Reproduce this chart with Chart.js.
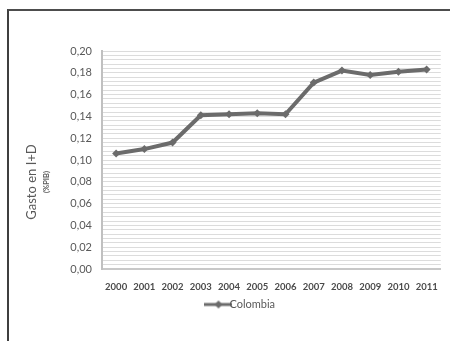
<!DOCTYPE html>
<html>
<head>
<meta charset="utf-8">
<script src="https://cdn.jsdelivr.net/npm/chart.js@4.4.1/dist/chart.umd.min.js"></script>
<style>
  html, body { margin: 0; padding: 0; background: #fff; }
  #wrap { position: relative; width: 450px; height: 341px; }
  #frame { position: absolute; left: 7px; top: 9px; right: 0; bottom: 0;
           border-top: 2px solid #4d4d4d; border-left: 2px solid #3f3f3f; pointer-events: none; }
  canvas { position: absolute; left: 0; top: 0; }
</style>
</head>
<body>
<div id="wrap">
  <canvas id="c" width="450" height="341"></canvas>
  <div id="frame"></div>
</div>
<script>
// Gasto en I+D de Colombia, % del PIB
const years = ['2000','2001','2002','2003','2004','2005','2006','2007','2008','2009','2010','2011'];
const colombia = [0.106, 0.110, 0.116, 0.141, 0.142, 0.143, 0.142, 0.171, 0.182, 0.178, 0.181, 0.183];
const yTitle = 'Gasto en I+D';
const yUnit = '(%PIB)';
const seriesName = 'Colombia';

const LINE = '#6b6b6b';
const TEXT = '#595959';

// Legend swatch: a short line with a diamond marker in the middle
function legendSwatch() {
  const cv = document.createElement('canvas');
  cv.width = 28; cv.height = 10;
  const g = cv.getContext('2d');
  g.strokeStyle = LINE; g.lineWidth = 3;
  g.beginPath(); g.moveTo(0, 5); g.lineTo(28, 5); g.stroke();
  g.fillStyle = LINE;
  g.beginPath(); g.moveTo(14, 1); g.lineTo(18, 5); g.lineTo(14, 9); g.lineTo(10, 5); g.closePath(); g.fill();
  return cv;
}

// Two-line rotated axis title, drawn beside the value axis
const axisTitle = {
  id: 'axisTitle',
  afterDraw(chart) {
    const { ctx, chartArea } = chart;
    const cy = (chartArea.top + chartArea.bottom) / 2 + 22;
    ctx.save();
    ctx.fillStyle = TEXT;
    ctx.textAlign = 'center';
    ctx.textBaseline = 'middle';
    ctx.translate(chartArea.left - 70, cy);
    ctx.rotate(-Math.PI / 2);
    ctx.font = '13px Lato';
    ctx.fillText(yTitle, 0, 0);
    ctx.font = 'bold 7.5px Lato';
    ctx.fillText(yUnit, 0, 15);
    ctx.restore();
  }
};

new Chart(document.getElementById('c'), {
  type: 'line',
  data: {
    labels: years,
    datasets: [{
      label: seriesName,
      data: colombia,
      borderColor: LINE,
      backgroundColor: LINE,
      borderWidth: 4,
      pointStyle: 'rectRot',
      pointRadius: 4,
      pointBorderWidth: 0,
      tension: 0
    }]
  },
  options: {
    responsive: false,
    animation: false,
    layout: { padding: { left: 46, right: 8, top: 51, bottom: 21 } },
    plugins: {
      tooltip: { enabled: false },
      legend: {
        position: 'bottom',
        labels: {
          usePointStyle: true,
          pointStyle: legendSwatch(),
          color: TEXT,
          font: { family: 'Lato', size: 11 },
          padding: 4
        }
      }
    },
    scales: {
      x: {
        offset: true,
        grid: { display: false, drawTicks: false },
        border: { color: '#c8c8c8', width: 2 },
        ticks: { color: '#4a4a4a', font: { family: 'Lato', size: 9.5, weight: 'bold' }, padding: 12, maxRotation: 0, autoSkip: false },
        afterFit(s) { s.height = 26; }
      },
      y: {
        min: 0, max: 0.2,
        grid: { color: '#dcdcdc', lineWidth: 1, drawTicks: false },
        border: { color: '#c0c0c0', width: 2 },
        ticks: {
          stepSize: 0.004,
          maxTicksLimit: 200,
          autoSkip: false,
          padding: 10,
          color: TEXT,
          font: { family: 'Lato', size: 11 },
          callback(v) {
            const k = v / 0.02;
            return Math.abs(k - Math.round(k)) < 1e-6 ? v.toFixed(2).replace('.', ',') : '';
          }
        },
        afterFit(s) { s.width = 56; }
      }
    }
  },
  plugins: [axisTitle]
});
</script>
</body>
</html>
